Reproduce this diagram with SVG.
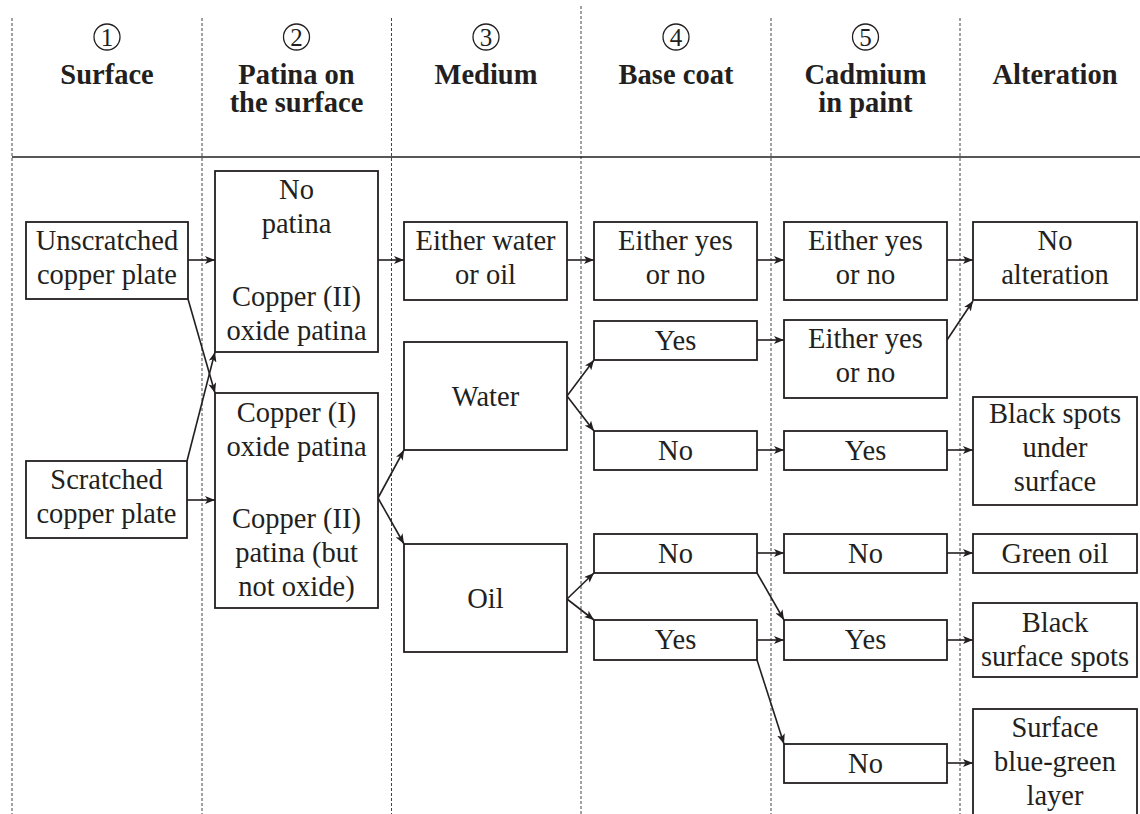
<svg xmlns="http://www.w3.org/2000/svg" width="1140" height="814" viewBox="0 0 1140 814">
<style>
text{font-family:"Liberation Serif","Times New Roman",serif;fill:#231f20;text-anchor:middle}
.h{font-weight:bold;font-size:28.5px}
.b{font-size:28.5px}
.d{font-size:25px}
.box{fill:#fff;stroke:#231f20;stroke-width:1.8}
.dash{stroke:#444;stroke-width:1;stroke-dasharray:3,2;fill:none}
.c{fill:none;stroke:#231f20;stroke-width:1.3}
.e{stroke:#231f20;stroke-width:1.6;fill:none;marker-end:url(#ah)}
</style>
<defs>
<marker id="ah" markerUnits="userSpaceOnUse" markerWidth="11" markerHeight="8" refX="10" refY="4" orient="auto">
<path d="M0,0 L10,4 L0,8 L2.5,4 z" fill="#231f20"/>
</marker>
</defs>
<rect width="1140" height="814" fill="#fff"/>
<g id="grid">
<line class="dash" x1="12" y1="18" x2="12" y2="814"/>
<line class="dash" x1="202" y1="18" x2="202" y2="814"/>
<line class="dash" x1="391.5" y1="18" x2="391.5" y2="814"/>
<line class="dash" x1="581" y1="6" x2="581" y2="814"/>
<line class="dash" x1="771" y1="18" x2="771" y2="814"/>
<line class="dash" x1="960" y1="18" x2="960" y2="814"/>
<line x1="12" y1="157" x2="1140" y2="157" stroke="#231f20" stroke-width="1.5"/>
</g>
<g id="header">
<circle class="c" cx="107" cy="37" r="13"/><text class="d" x="107" y="46">1</text>
<text class="h" x="107" y="84">Surface</text>
<circle class="c" cx="296.5" cy="37" r="13"/><text class="d" x="296.5" y="46">2</text>
<text class="h" x="296.5" y="84">Patina on</text>
<text class="h" x="296.5" y="112">the surface</text>
<circle class="c" cx="486" cy="37" r="13"/><text class="d" x="486" y="46">3</text>
<text class="h" x="486" y="84">Medium</text>
<circle class="c" cx="676" cy="37" r="13"/><text class="d" x="676" y="46">4</text>
<text class="h" x="676" y="84">Base coat</text>
<circle class="c" cx="865.5" cy="37" r="13"/><text class="d" x="865.5" y="46">5</text>
<text class="h" x="865.5" y="84">Cadmium</text>
<text class="h" x="865.5" y="112">in paint</text>
<text class="h" x="1055" y="84">Alteration</text>
</g>
<g id="connectors">
<path class="e" d="M188,260 L215,260"/>
<path class="e" d="M188,299 L215,393"/>
<path class="e" d="M187,461 L215,352"/>
<path class="e" d="M187,500 L215,500"/>
<path class="e" d="M378,260 L404,260"/>
<path class="e" d="M378,498 L404,450"/>
<path class="e" d="M378,498 L404,544"/>
<path class="e" d="M567,260 L594,260"/>
<path class="e" d="M567,396 L594,360"/>
<path class="e" d="M567,396 L594,431"/>
<path class="e" d="M567,599 L594,573"/>
<path class="e" d="M567,599 L594,620"/>
<path class="e" d="M757,260 L784,260"/>
<path class="e" d="M757,340 L784,340"/>
<path class="e" d="M757,450 L784,450"/>
<path class="e" d="M757,553 L784,553"/>
<path class="e" d="M757,573 L784,620"/>
<path class="e" d="M757,640 L784,640"/>
<path class="e" d="M757,660 L784,744"/>
<path class="e" d="M947,260 L973,260"/>
<path class="e" d="M947,340 L973,301"/>
<path class="e" d="M947,450 L973,450"/>
<path class="e" d="M947,553 L973,553"/>
<path class="e" d="M947,640 L973,640"/>
<path class="e" d="M947,763 L973,763"/>
</g>
<g id="unscratched"><rect class="box" x="26" y="222" width="162" height="77"/><text class="b" x="107" y="250">Unscratched</text><text class="b" x="107" y="284">copper plate</text></g>
<g id="scratched"><rect class="box" x="26" y="461" width="161" height="77"/><text class="b" x="106.5" y="489">Scratched</text><text class="b" x="106.5" y="523">copper plate</text></g>
<g id="patina-top"><rect class="box" x="215" y="171" width="163" height="181"/><text class="b" x="296.5" y="199">No</text><text class="b" x="296.5" y="233">patina</text><text class="b" x="296.5" y="306">Copper (II)</text><text class="b" x="296.5" y="340">oxide patina</text></g>
<g id="patina-bottom"><rect class="box" x="215" y="393" width="163" height="215"/><text class="b" x="296.5" y="422">Copper (I)</text><text class="b" x="296.5" y="456">oxide patina</text><text class="b" x="296.5" y="528">Copper (II)</text><text class="b" x="296.5" y="562">patina (but</text><text class="b" x="296.5" y="596">not oxide)</text></g>
<g id="medium-either"><rect class="box" x="404" y="222" width="163" height="78"/><text class="b" x="485.5" y="250">Either water</text><text class="b" x="485.5" y="284">or oil</text></g>
<g id="medium-water"><rect class="box" x="404" y="342" width="163" height="108"/><text class="b" x="485.5" y="406">Water</text></g>
<g id="medium-oil"><rect class="box" x="404" y="544" width="163" height="108"/><text class="b" x="485.5" y="608">Oil</text></g>
<g id="base-either"><rect class="box" x="594" y="222" width="163" height="78"/><text class="b" x="675.5" y="250">Either yes</text><text class="b" x="675.5" y="284">or no</text></g>
<g id="base-water-yes"><rect class="box" x="594" y="321" width="163" height="39"/><text class="b" x="675.5" y="350">Yes</text></g>
<g id="base-water-no"><rect class="box" x="594" y="431" width="163" height="39"/><text class="b" x="675.5" y="460">No</text></g>
<g id="base-oil-no"><rect class="box" x="594" y="534" width="163" height="39"/><text class="b" x="675.5" y="563">No</text></g>
<g id="base-oil-yes"><rect class="box" x="594" y="620" width="163" height="40"/><text class="b" x="675.5" y="649">Yes</text></g>
<g id="cad-either1"><rect class="box" x="784" y="222" width="163" height="78"/><text class="b" x="865.5" y="250">Either yes</text><text class="b" x="865.5" y="284">or no</text></g>
<g id="cad-either2"><rect class="box" x="784" y="320" width="163" height="78"/><text class="b" x="865.5" y="348">Either yes</text><text class="b" x="865.5" y="382">or no</text></g>
<g id="cad-yes1"><rect class="box" x="784" y="431" width="163" height="39"/><text class="b" x="865.5" y="460">Yes</text></g>
<g id="cad-no1"><rect class="box" x="784" y="534" width="163" height="39"/><text class="b" x="865.5" y="563">No</text></g>
<g id="cad-yes2"><rect class="box" x="784" y="620" width="163" height="40"/><text class="b" x="865.5" y="649">Yes</text></g>
<g id="cad-no2"><rect class="box" x="784" y="744" width="163" height="39"/><text class="b" x="865.5" y="773">No</text></g>
<g id="alt-none"><rect class="box" x="973" y="222" width="164" height="78"/><text class="b" x="1055" y="250">No</text><text class="b" x="1055" y="284">alteration</text></g>
<g id="alt-black-under"><rect class="box" x="973" y="397" width="164" height="108"/><text class="b" x="1055" y="423">Black spots</text><text class="b" x="1055" y="457">under</text><text class="b" x="1055" y="491">surface</text></g>
<g id="alt-green-oil"><rect class="box" x="973" y="534" width="164" height="39"/><text class="b" x="1055" y="563">Green oil</text></g>
<g id="alt-black-surface"><rect class="box" x="973" y="603" width="164" height="74"/><text class="b" x="1055" y="632">Black</text><text class="b" x="1055" y="666">surface spots</text></g>
<g id="alt-blue-green"><rect class="box" x="973" y="709" width="164" height="115"/><text class="b" x="1055" y="737">Surface</text><text class="b" x="1055" y="771">blue-green</text><text class="b" x="1055" y="805">layer</text></g>
</svg>
